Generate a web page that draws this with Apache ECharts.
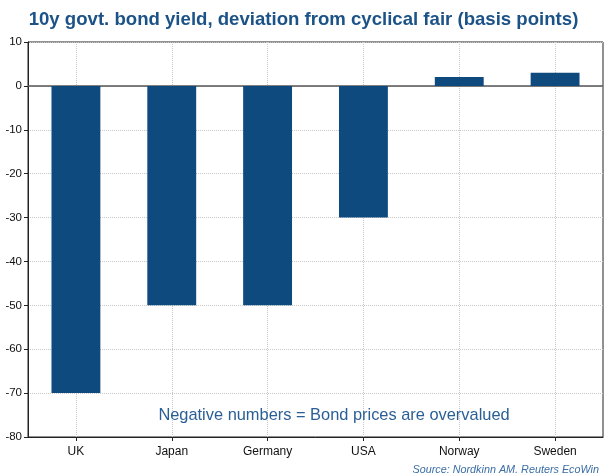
<!DOCTYPE html>
<html>
<head>
<meta charset="utf-8">
<script src="https://cdn.jsdelivr.net/npm/echarts@6/dist/echarts.min.js"></script>
<style>
  html, body { margin: 0; padding: 0; background: #fff; }
  #chart { width: 607px; height: 473px; }
</style>
</head>
<body>
<div id="chart"></div>
<script>
const countries = ['UK', 'Japan', 'Germany', 'USA', 'Norway', 'Sweden']
const deviation = [-70, -50, -50, -30, 2, 3]
const yMin = -80
const yMax = 10

const chart = echarts.init(document.getElementById('chart'))

const option = {
  animation: false,
  title: [
    {
      text: '10y govt. bond yield, deviation from cyclical fair (basis points)',
      left: 'center',
      top: 5,
      textStyle: { color: '#1b5287', fontSize: 18.6, fontWeight: 'bold', fontFamily: 'Liberation Sans' }
    },
    {
      text: 'Negative numbers = Bond prices are overvalued',
      left: 329,
      top: 402,
      textAlign: 'center',
      textStyle: { color: '#2a5f96', fontSize: 16.4, fontWeight: 'normal', fontFamily: 'Liberation Sans' }
    },
    {
      text: 'Source: Nordkinn AM, Reuters EcoWin',
      right: 3,
      top: 459,
      textStyle: { color: '#3a6ea5', fontSize: 10.8, fontStyle: 'italic', fontWeight: 'normal', fontFamily: 'Liberation Sans' }
    }
  ],
  grid: {
    left: 28,
    right: 4,
    top: 42,
    bottom: 36,
    show: true,
    borderColor: '#222',
    borderWidth: 1
  },
  xAxis: {
    type: 'category',
    data: countries,
    axisLine: { show: true, onZero: false, lineStyle: { color: '#222' } },
    axisTick: { show: true, alignWithLabel: true, length: 4, lineStyle: { color: '#222' } },
    axisLabel: { color: '#111', fontSize: 12, margin: 9, fontFamily: 'Liberation Sans' },
    splitLine: { show: false }
  },
  yAxis: {
    type: 'value',
    min: yMin,
    max: yMax,
    interval: 10,
    axisLine: { show: true, lineStyle: { color: '#222' } },
    axisTick: { show: true, length: 4, lineStyle: { color: '#222' } },
    axisLabel: { color: '#111', fontSize: 11.5, margin: 6, fontFamily: 'Liberation Sans' },
    splitLine: { show: true, lineStyle: { color: '#c8c8c8', type: 'dotted' } }
  },
  series: [
    {
      type: 'bar',
      data: deviation,
      barWidth: '51%',
      itemStyle: { color: '#0e4a7e' },
      markLine: {
        silent: true,
        symbol: 'none',
        label: { show: false },
        z: 1,
        data: countries.map(c => ({
          xAxis: c,
          lineStyle: { color: '#c8c8c8', type: 'dotted', width: 1 }
        })).concat([
          { yAxis: 0, lineStyle: { color: '#555', type: 'solid', width: 1.5 } }
        ])
      }
    }
  ]
}

chart.setOption(option)
window.addEventListener('resize', function () {
  chart.resize()
})
</script>
</body>
</html>
